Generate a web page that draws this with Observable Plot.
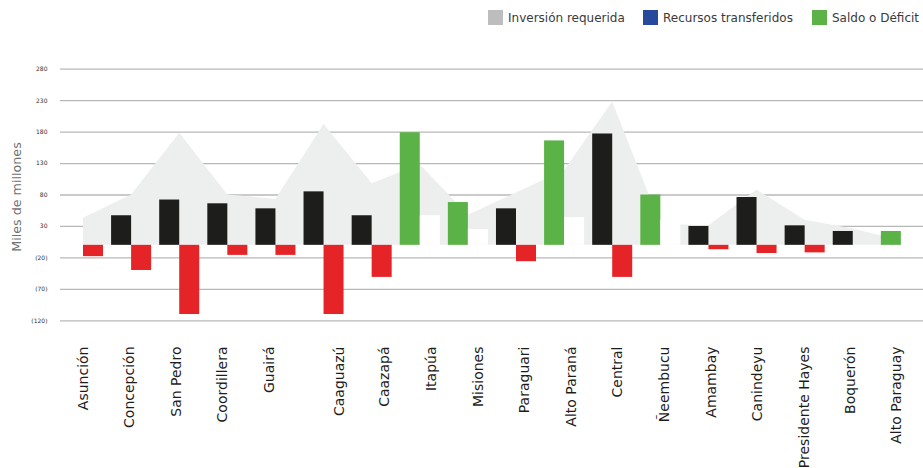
<!DOCTYPE html>
<html>
<head>
<meta charset="utf-8">
<script src="https://cdn.jsdelivr.net/npm/d3@7"></script>
<script src="https://cdn.jsdelivr.net/npm/@observablehq/plot@0.6"></script>
<style>
  html, body { margin: 0; padding: 0; background: #fff; }
  body { width: 923px; height: 468px; overflow: hidden; font-family: "DejaVu Sans", sans-serif; }
  #legend { position: relative; height: 35px; }
  .item { position: absolute; top: 10px; height: 15px; display: flex; align-items: center; font-size: 12px; color: #3a3a3a; white-space: nowrap; }
  .sw { width: 15px; height: 15px; margin-right: 5px; }
  #chart svg { display: block; }
</style>
</head>
<body>
<div id="legend"></div>
<div id="chart"></div>
<script>
// ---- Data ----
const departamentos = ["Asunción","Concepción","San Pedro","Coordillera","Guairá","Caaguazú","Caazapá","Itapúa","Misiones","Paraguari","Alto Paraná","Central","Ñeembucu","Amambay","Canindeyu","Presidente Hayes","Boquerón","Alto Paraguay"];
// Inversión requerida (grey area)
const inversionRequerida = [43, 80, 178, 80, 73, 192, 98, 128, 48, 83, 119, 228, 33, 31, 88, 40, 26, 7];
// Recursos transferidos (dark bars)
const recursosTransferidos = [null, 47, 72, 66, 58, 85, 47, null, null, 58, null, 177, null, 30, 76, 31, 22, null];
// Saldo negativo (red bars)
const deficit = [-18, -40, -110, -16, -16, -110, -51, null, null, -26, null, -51, null, -7, -13, -12, null, null];
// Saldo positivo (green bars)
const saldoPositivo = [null, null, null, null, null, null, null, 179, 68, null, 166, null, 80, null, null, null, null, 22];
// White bars drawn next to the green ones
const barrasBlancas = [null, null, null, null, null, null, null, 47, 25, null, 44, null, 40, null, null, null, null, null];
// Tick label positions (in department index units)
const posicionEtiquetas = [0.1, 1.06, 2.02, 2.99, 3.97, 5.41, 6.36, 7.32, 8.3, 9.25, 10.23, 11.19, 12.16, 13.14, 14.1, 15.07, 16.03, 17.0];
const yTicks = [280, 230, 180, 130, 80, 30, -20, -70, -120];
const legendItems = [
  {label: "Inversión requerida", color: "#bdbdbd"},
  {label: "Recursos transferidos", color: "#27499b"},
  {label: "Saldo o Déficit", color: "#5bb348"}
];

// ---- Legend (HTML, above the SVG) ----
const legendLeft = [488, 643, 812];
const legend = document.getElementById("legend");
legendItems.forEach((it, k) => {
  const d = document.createElement("div");
  d.className = "item";
  d.style.left = legendLeft[k] + "px";
  d.innerHTML = `<span class="sw" style="background:${it.color}"></span><span>${it.label}</span>`;
  legend.appendChild(d);
});

// ---- Chart ----
const rows = departamentos.map((dep, i) => ({
  dep, i,
  req: inversionRequerida[i],
  rec: recursosTransferidos[i],
  def: deficit[i],
  sal: saldoPositivo[i],
  bla: barrasBlancas[i]
}));
const W = 0.416; // bar width in index units
const fmt = d => d < 0 ? `(${-d})` : `${d}`;

const chart = Plot.plot({
  width: 923,
  height: 433,
  marginLeft: 60,
  marginRight: 0,
  marginTop: 33.7,
  marginBottom: 147.7,
  style: {fontFamily: "DejaVu Sans, sans-serif", background: "#fff"},
  x: {domain: [-0.478, 17.46], axis: null},
  y: {domain: [-120, 280], axis: null},
  marks: [
    Plot.ruleY(yTicks, {stroke: "#b8b8b8", strokeWidth: 1.3}),
    Plot.areaY(rows, {x: "i", y: "req", fill: "#edeeee", curve: "linear"}),
    Plot.rect(rows.filter(d => d.rec != null), {x1: d => d.i - W, x2: d => d.i, y1: 0, y2: "rec", fill: "#1d1d1b"}),
    Plot.rect(rows.filter(d => d.def != null), {x1: d => d.i, x2: d => d.i + W, y1: 0, y2: "def", fill: "#e52427"}),
    Plot.rect(rows.filter(d => d.sal != null), {x1: d => d.i - W, x2: d => d.i, y1: 0, y2: "sal", fill: "#5bb348"}),
    Plot.rect(rows.filter(d => d.bla != null), {x1: d => d.i, x2: d => d.i + W, y1: 0, y2: "bla", fill: "#ffffff"}),
    Plot.axisY(yTicks, {tickSize: 0, tickPadding: 13, tickFormat: fmt, fontSize: 6, fill: "#333", label: null}),
    Plot.text(departamentos, {x: (d, k) => posicionEtiquetas[k], text: d => d, frameAnchor: "bottom", dy: 25.7, rotate: -90, textAnchor: "end", fontSize: 14, fill: "#1d1d1b"}),
    Plot.text(["Miles de millones"], {text: d => d, frameAnchor: "left", dx: -44, dy: 2, rotate: -90, textAnchor: "middle", fontSize: 12.7, fill: "#6f6f6f"})
  ]
});
document.getElementById("chart").appendChild(chart);
</script>
</body>
</html>
